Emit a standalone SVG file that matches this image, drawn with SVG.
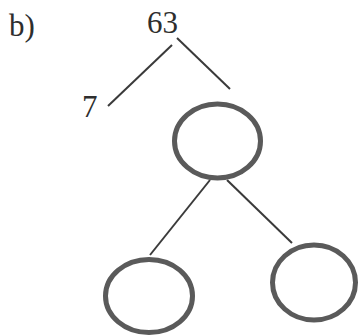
<svg xmlns="http://www.w3.org/2000/svg" width="359" height="336" viewBox="0 0 359 336">
<style>
.t{font-family:"Liberation Serif","Times New Roman",serif;font-size:31px;fill:#2e2e2e}
.n{fill:none;stroke:#5a5a5a;stroke-width:5}
.c line{stroke:#3a3a3a;stroke-width:2}
</style>
<rect width="359" height="336" fill="#fff"/>
<text class="t" x="9" y="36">b)</text>
<g id="root"><text class="t" x="147" y="33">63</text></g>
<g id="leaf7"><text class="t" x="82" y="117">7</text></g>
<g class="c">
<line x1="172" y1="45" x2="108" y2="106"/>
<line x1="177" y1="38" x2="230" y2="89"/>
<line x1="210" y1="180" x2="150" y2="255"/>
<line x1="227" y1="180" x2="292" y2="243"/>
</g>
<g id="mid"><ellipse class="n" cx="217.5" cy="141" rx="43" ry="37"/></g>
<g id="left"><ellipse class="n" cx="149" cy="296" rx="43.5" ry="36.5"/></g>
<g id="right"><ellipse class="n" cx="314" cy="282.5" rx="41.5" ry="37.5"/></g>
</svg>
